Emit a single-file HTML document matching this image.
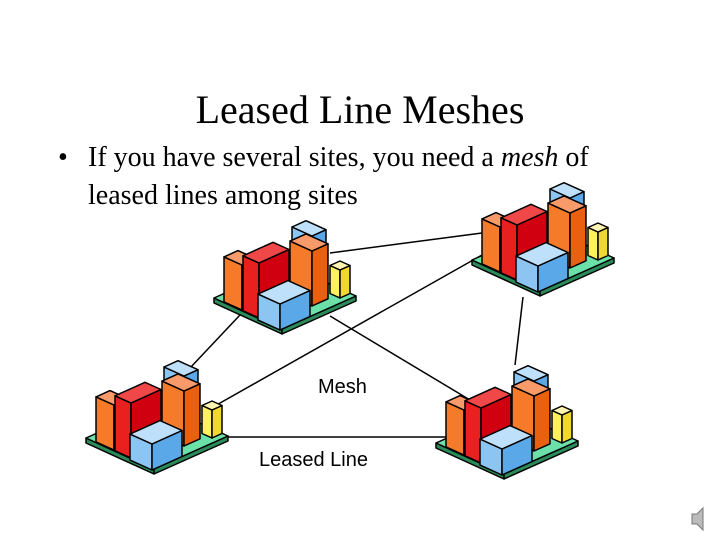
<!DOCTYPE html>
<html><head><style>
body{margin:0;width:720px;height:540px;background:#fff;overflow:hidden;position:relative}
.t{position:absolute;font-family:"Liberation Serif",serif;color:#000;white-space:nowrap}
.s{position:absolute;font-family:"Liberation Sans",sans-serif;font-size:20px;white-space:nowrap}
</style></head><body>
<svg width="720" height="540" style="position:absolute;left:0;top:0">
<defs>
<g id="c" stroke="#000" stroke-width="1.5" stroke-linejoin="round">
<polygon points="2,92 70,123 70,128 2,97" fill="#2a8a5a"/>
<polygon points="70,123 144,90 144,95 70,128" fill="#2a8a5a"/>
<polygon points="70,123 2,92 76,59 144,90" fill="#6be0a8"/>
<polygon points="80,46 100,55 100,30 80,21" fill="#8cc4f2"/>
<polygon points="100,55 114,48.7 114,23.7 100,30" fill="#5aa8e8"/>
<polygon points="80,21 100,30 114,23.7 94,14.7" fill="#bfe0fa"/>
<polygon points="66,55.7 80,62 80,54 66,47.7" fill="#fff070"/>
<polygon points="80,62 90,57.5 90,49.5 80,54" fill="#f0d830"/>
<polygon points="66,47.7 80,54 90,49.5 76,43.2" fill="#fff4b0"/>
<polygon points="118,87.5 128,92 128,64 118,59.5" fill="#fff060"/>
<polygon points="128,92 138,87.5 138,59.5 128,64" fill="#f0d830"/>
<polygon points="118,59.5 128,64 138,59.5 128,55" fill="#fff4b0"/>
<polygon points="12,95.9 30,104 30,59 12,50.9" fill="#f57a2a"/>
<polygon points="30,104 44,97.7 44,52.7 30,59" fill="#e06010"/>
<polygon points="12,50.9 30,59 44,52.7 26,44.6" fill="#f89a6a"/>
<polygon points="78,90.1 100,100 100,45 78,35.1" fill="#f57a2a"/>
<polygon points="100,100 116,92.8 116,37.8 100,45" fill="#e86010"/>
<polygon points="78,35.1 100,45 116,37.8 94,27.9" fill="#f89a6a"/>
<polygon points="31,104.8 47,112 47,57 31,49.8" fill="#e82020"/>
<polygon points="47,112 77,98.5 77,43.5 47,57" fill="#d00010"/>
<polygon points="31,49.8 47,57 77,43.5 61,36.3" fill="#f04848"/>
<polygon points="46,114.1 68,124 68,98 46,88.1" fill="#8cc4f2"/>
<polygon points="68,124 98,110.5 98,84.5 68,98" fill="#5aa8e8"/>
<polygon points="46,88.1 68,98 98,84.5 76,74.6" fill="#bfe0fa"/>
</g>
</defs>
<g stroke="#000" stroke-width="1.5">
<line x1="330" y1="253" x2="482" y2="233"/>
<line x1="240" y1="315" x2="190" y2="368"/>
<line x1="330" y1="316" x2="470" y2="400"/>
<line x1="213" y1="407" x2="482" y2="255"/>
<line x1="523" y1="297" x2="515" y2="365"/>
<line x1="222" y1="437" x2="446" y2="437"/>
</g>
<use href="#c" x="212" y="206"/>
<use href="#c" x="470" y="168"/>
<use href="#c" x="84" y="346"/>
<use href="#c" x="434" y="351"/>
<g fill="#bbb" stroke="#777"><polygon points="692,514 697,514 703,508 703,530 697,524 692,524"/></g>
</svg>
<div class="t" style="left:0;width:720px;text-align:center;top:86px;font-size:40px">Leased Line Meshes</div>
<div class="t" style="left:58px;top:142px;font-size:28px">•</div>
<div class="t" style="left:88px;top:142px;font-size:28px">If you have several sites, you need a <i>mesh</i> of</div>
<div class="t" style="left:88px;top:180px;font-size:28px">leased lines among sites</div>
<div class="s" style="left:318px;top:376px">Mesh</div>
<div class="s" style="left:259px;top:449px">Leased Line</div>
</body></html>
